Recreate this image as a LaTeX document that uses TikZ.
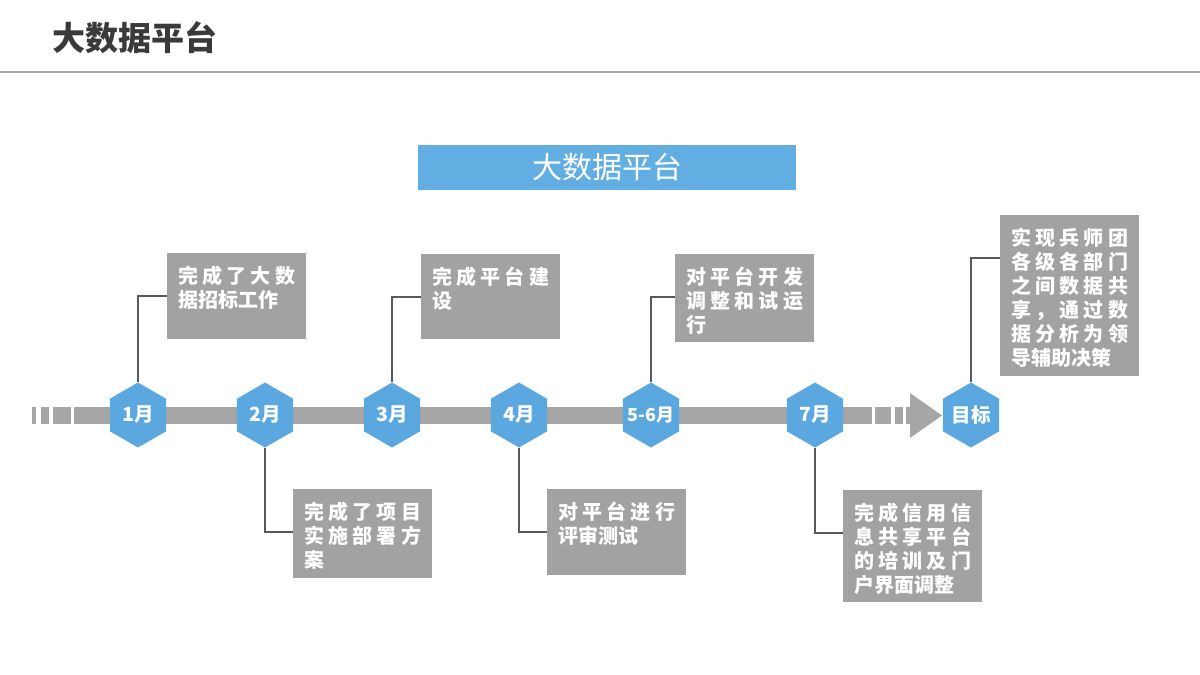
\documentclass[tikz,border=0pt]{standalone}
\usepackage{fontspec}
\setmainfont{Noto Sans CJK SC}
\usetikzlibrary{shapes.geometric,calc}
\definecolor{hexblue}{HTML}{5BA8E0}
\definecolor{bannerblue}{HTML}{62AEE2}
\definecolor{boxgray}{HTML}{A2A2A2}
\definecolor{bargray}{HTML}{A6A6A6}
\definecolor{conngray}{HTML}{595959}
\definecolor{titlegray}{HTML}{3A3A3A}
\definecolor{linegray}{HTML}{A8A8A8}
\def\jlx#1{\ifx#1\relax\else#1\expandafter\jly\fi}
\def\jly#1{\ifx#1\relax\else\hfill#1\expandafter\jly\fi}
\newcommand\jl[1]{\makebox[\linewidth]{\jlx#1\relax}\\}
\newcommand\hexlbl[1]{\makebox[0pt]{#1}}
\tikzset{
  hexnode/.style={regular polygon, regular polygon sides=6, shape border rotate=30,
    minimum size=65pt, inner sep=0pt, fill=hexblue, text=white,
    font=\bfseries\fontsize{19.5}{19.5}\selectfont},
  gbox/.style={fill=boxgray, anchor=north west, inner xsep=11pt, inner ysep=0pt,
    text width=117pt, text height=30pt, align=left, text=white,
    font=\bfseries\fontsize{20}{24}\selectfont},
  conn/.style={draw=conngray, line width=1.5pt},
  barseg/.style={fill=bargray},
}
\begin{document}
\begin{tikzpicture}[x=1pt,y=-1pt]
\useasboundingbox (0,0) rectangle (1200,675);
% header
\node[anchor=west, inner sep=0pt, text=titlegray, font=\bfseries\fontsize{33}{33}\selectfont] (title) at (52,38) {大数据平台};
\coordinate (hl) at (0,72);
\coordinate (hr) at (1200,72);
\draw[draw=linegray, line width=2pt] (hl) -- (hr);
% banner
\node[fill=bannerblue, minimum width=378pt, minimum height=45pt, inner sep=0pt, text=white,
  font=\fontsize{30}{30}\selectfont] (banner) at (607,167.5) {\raisebox{-4pt}{大数据平台}};
% timeline bar
\fill[barseg] (32,407) rectangle (36,424);
\fill[barseg] (41,407) rectangle (49,424);
\fill[barseg] (53,407) rectangle (71,424);
\fill[barseg] (74,407) rectangle (872,424);
\fill[barseg] (875,407) rectangle (891,424);
\fill[barseg] (895,407) rectangle (903,424);
\fill[barseg] (906,407) -- (910,407) -- (910,393) -- (942,415.5) -- (910,438) -- (910,424) -- (906,424) -- cycle;
% hexagons
\node[hexnode] (h1) at (138,415) {\hexlbl{1月}};
\node[hexnode] (h2) at (265,415) {\hexlbl{2月}};
\node[hexnode] (h3) at (392,415) {\hexlbl{3月}};
\node[hexnode] (h4) at (519,415) {\hexlbl{4月}};
\node[hexnode, font=\bfseries\fontsize{18}{18}\selectfont] (h5) at (651,415) {\hexlbl{5-6月}};
\node[hexnode] (h6) at (815,415) {\hexlbl{7月}};
\node[hexnode] (h7) at (971,415) {\hexlbl{目标}};
% boxes
\node[gbox, text depth=56pt] (b1) at (167,253) {\jl{完成了大数}据招标工作};
\node[gbox, text depth=59pt] (b2) at (293,489) {\jl{完成了项目}\jl{实施部署方}案};
\node[gbox, text depth=55pt] (b3) at (421,254) {\jl{完成平台建}设};
\node[gbox, text depth=56pt] (b4) at (547,489) {\jl{对平台进行}评审测试};
\node[gbox, text depth=58pt] (b5) at (675,254) {\jl{对平台开发}\jl{调整和试运}行};
\node[gbox, text depth=82pt] (b6) at (843,490) {\jl{完成信用信}\jl{息共享平台}\jl{的培训及门}户界面调整};
\node[gbox, text height=30.5pt, text depth=130.5pt] (b7) at (1000,215) {\jl{实现兵师团}\jl{各级各部门}\jl{之间数据共}\jl{享，通过数}\jl{据分析为领}导辅助决策};
% connectors
\draw[conn] (h1.90) |- ($(b1.north west)+(0,43)$);
\draw[conn] (h2.270) |- ($(b2.north west)+(0,43)$);
\draw[conn] (h3.90) |- ($(b3.north west)+(0,43)$);
\draw[conn] (h4.270) |- ($(b4.north west)+(0,43)$);
\draw[conn] (h5.90) |- ($(b5.north west)+(0,43)$);
\draw[conn] (h6.270) |- ($(b6.north west)+(0,43)$);
\draw[conn] (h7.90) |- ($(b7.north west)+(0,43)$);
\end{tikzpicture}
\end{document}
